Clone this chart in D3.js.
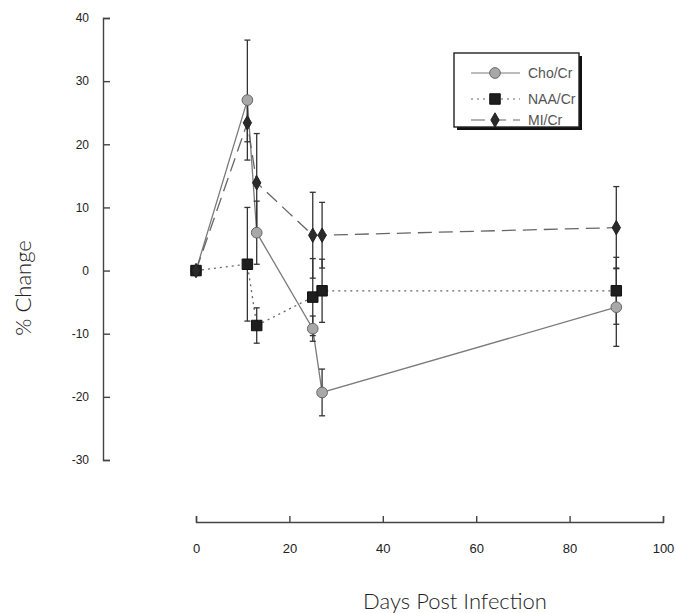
<!DOCTYPE html>
<html>
<head>
<meta charset="utf-8">
<script src="https://cdn.jsdelivr.net/npm/d3@7"></script>
<style>
  body { margin: 0; background: #fff; }
  svg { display: block; }
</style>
</head>
<body>
<svg id="canvas"></svg>
<script>
//--data
const days = [0, 11, 13, 25, 27, 90];
const choVals = [0, 27, 6, -9.2, -19.3, -5.8];
const choErr = [0, 9.5, 5, 2, 3.7, 6.2];
const naaVals = [0, 1, -8.7, -4.2, -3.2, -3.2];
const naaErr = [0, 9, 2.8, 6.1, 5, 5.3];
const miVals = [0, 23.4, 13.9, 5.6, 5.6, 6.8];
const miErr = [0, 3, 7.8, 6.8, 5.2, 6.5];
const xTicks = [0, 20, 40, 60, 80, 100];
const yTicks = [-30, -20, -10, 0, 10, 20, 30, 40];
const seriesNames = ["Cho/Cr", "NAA/Cr", "MI/Cr"];
//--

let width = 676;
let height = 613;

let canvas = d3.select("#canvas")
canvas.attr("width", width).attr("height", height)

let xScale = d3.scaleLinear().domain([0, 100]).range([196, 663]);
let yScale = d3.scaleLinear().domain([-30, 40]).range([460, 18]);

//--series styles
let series = [
  {name: seriesNames[0], vals: choVals, err: choErr, dash: null, color: "#7a7a7a",
   symbol: d3.symbolCircle, size: 90, fill: "#a8a8a8", stroke: "#666"},
  {name: seriesNames[1], vals: naaVals, err: naaErr, dash: "2,4", color: "#666",
   symbol: d3.symbolSquare, size: 110, fill: "#1e1e1e", stroke: "#111"},
  {name: seriesNames[2], vals: miVals, err: miErr, dash: "14,7", color: "#666",
   symbol: d3.symbolDiamond, size: 60, fill: "#2a2a2a", stroke: "#222"}
];

//--axes (hyphen minus like the original)
let fmt = d => String(d);
let yAxis = d3.axisRight(yScale).tickValues(yTicks).tickSize(7).tickFormat(fmt);
let gy = canvas.append("g").attr("transform", "translate(103,0)").call(yAxis);
gy.select(".domain").attr("stroke", "#444").attr("stroke-width", 1.4);
gy.selectAll(".tick line").attr("stroke", "#444").attr("stroke-width", 1.4);
gy.selectAll(".tick text")
  .attr("x", -14)
  .attr("text-anchor", "end")
  .attr("font-family", "Liberation Sans, Arial, sans-serif")
  .attr("font-size", 12)
  .attr("fill", "#222");

let xAxis = d3.axisTop(xScale).tickValues(xTicks).tickSize(6).tickFormat(fmt);
let gx = canvas.append("g").attr("transform", "translate(0,522)").call(xAxis);
gx.select(".domain").attr("stroke", "#444").attr("stroke-width", 1.4);
gx.selectAll(".tick line").attr("stroke", "#444").attr("stroke-width", 1.4);
gx.selectAll(".tick text")
  .attr("y", 31)
  .attr("dy", 0)
  .attr("font-family", "Liberation Sans, Arial, sans-serif")
  .attr("font-size", 13)
  .attr("fill", "#222");

//--axis titles
canvas.append("text")
  .attr("transform", "translate(31,288) rotate(-90)")
  .attr("text-anchor", "middle")
  .attr("font-family", "Lato, sans-serif")
  .attr("font-weight", 300)
  .attr("font-size", 22)
  .attr("fill", "#222")
  .text("% Change");

canvas.append("text")
  .attr("x", 455)
  .attr("y", 609)
  .attr("text-anchor", "middle")
  .attr("font-family", "Lato, sans-serif")
  .attr("font-weight", 300)
  .attr("font-size", 22)
  .attr("fill", "#222")
  .text("Days Post Infection");

//--lines
let line = d3.line().x((d, i) => xScale(days[i])).y(d => yScale(d));
series.forEach(s => {
  canvas.append("path")
    .attr("d", line(s.vals))
    .attr("fill", "none")
    .attr("stroke", s.color)
    .attr("stroke-width", 1.3)
    .attr("stroke-dasharray", s.dash);
});

//--error bars
series.forEach(s => {
  let g = canvas.append("g");
  s.vals.forEach((v, i) => {
    if (s.err[i] === 0) return;
    let x = xScale(days[i]);
    let y1 = yScale(v + s.err[i]);
    let y2 = yScale(v - s.err[i]);
    g.append("line").attr("x1", x).attr("x2", x).attr("y1", y1).attr("y2", y2)
      .attr("stroke", "#333").attr("stroke-width", 1.3);
    [y1, y2].forEach(y => {
      g.append("line").attr("x1", x - 3).attr("x2", x + 3).attr("y1", y).attr("y2", y)
        .attr("stroke", "#333").attr("stroke-width", 1.3);
    });
  });
});

//--markers
series.forEach(s => {
  canvas.append("g").selectAll("path")
    .data(s.vals)
    .enter()
    .append("path")
    .attr("d", d3.symbol().type(s.symbol).size(s.size))
    .attr("transform", (d, i) => "translate(" + xScale(days[i]) + "," + yScale(d) + ")")
    .attr("fill", s.fill)
    .attr("stroke", s.stroke)
    .attr("stroke-width", 1);
});

//--legend
let lg = canvas.append("g").attr("transform", "translate(454,53)");
lg.append("rect").attr("x", 3).attr("y", 3).attr("width", 125).attr("height", 74).attr("fill", "#111");
lg.append("rect").attr("width", 125).attr("height", 74).attr("fill", "#fff")
  .attr("stroke", "#222").attr("stroke-width", 1.4);

series.forEach((s, i) => {
  let yy = [20, 46, 67][i];
  lg.append("line").attr("x1", 17).attr("x2", 66).attr("y1", yy).attr("y2", yy)
    .attr("stroke", s.color).attr("stroke-width", 1.2).attr("stroke-dasharray", s.dash);
  lg.append("path")
    .attr("d", d3.symbol().type(s.symbol).size(s.size))
    .attr("transform", "translate(41," + yy + ")")
    .attr("fill", s.fill).attr("stroke", s.stroke);
  lg.append("text")
    .attr("x", 74).attr("y", yy + 5)
    .attr("font-family", "Liberation Sans, Arial, sans-serif")
    .attr("font-size", 14)
    .attr("fill", "#555")
    .text(s.name);
});
</script>
</body>
</html>
